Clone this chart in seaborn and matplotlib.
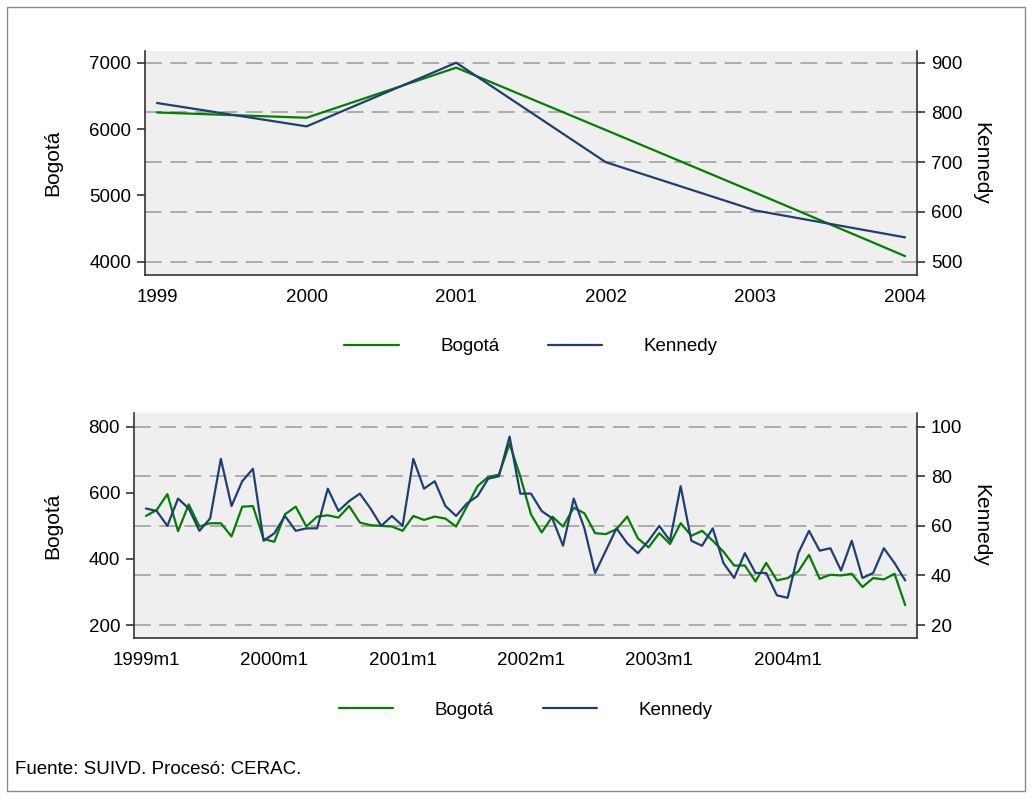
import numpy as np
import pandas as pd
import matplotlib
matplotlib.use("Agg")
import matplotlib.pyplot as plt
import seaborn as sns
from matplotlib.transforms import blended_transform_factory
from matplotlib.lines import Line2D
from matplotlib.patches import Rectangle

# ---------------- data ----------------
years = [1999, 2000, 2001, 2002, 2003, 2004]
bogota_year = [6250, 6170, 6925, 5985, 5040, 4085]
kennedy_year = [819, 772, 900, 700, 603, 549]

month_labels = [f"{y}m{m}" for y in range(1999, 2005) for m in range(1, 13)]
bogota_month = [
    530, 548, 596, 484, 565, 498, 508, 508, 468, 558, 560, 460,
    452, 535, 558, 498, 528, 532, 525, 560, 510, 502, 500, 498,
    485, 530, 518, 528, 522, 498, 558, 620, 648, 655, 748, 650,
    535, 480, 528, 498, 555, 538, 478, 475, 490, 528, 462, 435,
    478, 445, 508, 470, 485, 455, 422, 380, 380, 332, 388, 335,
    342, 362, 412, 340, 352, 350, 355, 315, 342, 338, 355, 260,
]
kennedy_month = [
    67, 66, 60, 71, 67, 58, 63, 87, 68, 78, 83, 54,
    57, 64, 58, 59, 59, 75, 66, 70, 73, 67, 60, 64,
    60, 87, 75, 78, 68, 64, 69, 72, 79, 80, 96, 73,
    73, 66, 63, 52, 71, 59, 41, 50, 59, 53, 49, 54,
    60, 54, 76, 54, 52, 59, 45, 39, 49, 41, 41, 32,
    31, 49, 58, 50, 51, 42, 54, 39, 41, 51, 45, 38,
]
month_tick_labels = ["1999m1", "2000m1", "2001m1", "2002m1", "2003m1", "2004m1"]
series_names = ["Bogotá", "Kennedy"]
source_text = "Fuente: SUIVD. Procesó: CERAC."

df_year = pd.DataFrame({"year": years, "Bogotá": bogota_year, "Kennedy": kennedy_year})
df_month = pd.DataFrame({"t": np.arange(len(month_labels)), "label": month_labels,
                         "Bogotá": bogota_month, "Kennedy": kennedy_month})

# ---------------- style ----------------
sns.set_theme(style="white")
plt.rcParams["font.family"] = ["Liberation Sans", "DejaVu Sans"]
plt.rcParams["text.color"] = "black"
plt.rcParams["axes.labelcolor"] = "black"

GREEN = "#008000"
NAVY = "#1F3F74"
BG = "#EFEFEF"
GRID = "#9A9A9A"
SPINE = "#333333"
FS_TICK = 13.5
FS_LABEL = 15
LW = 1.6

W, H = 1032, 798
fig = plt.figure(figsize=(W / 100, H / 100), dpi=100)
fig.patch.set_facecolor("white")

def px_axes(x0, y0, x1, y1):
    return fig.add_axes([x0 / W, 1 - y1 / H, (x1 - x0) / W, (y1 - y0) / H])

def style_panel(ax, ax2, right_ticks):
    ax.set_facecolor(BG)
    ax2.patch.set_visible(False)
    for a in (ax, ax2):
        a.spines["top"].set_visible(False)
        for s in ("left", "right", "bottom"):
            a.spines[s].set_color(SPINE)
            a.spines[s].set_linewidth(1.2)
        a.tick_params(direction="out", length=6, width=1.2, color=SPINE,
                      labelsize=FS_TICK, labelcolor="black", pad=4)
        a.grid(False)
    ax.spines["right"].set_visible(False)
    ax2.spines["left"].set_visible(False)
    ax2.spines["bottom"].set_visible(False)
    ax2.set_yticks(right_ticks)
    # grid lines at right-axis ticks, drawn on the primary axis (behind data)
    tr = blended_transform_factory(ax.transAxes, ax2.transData)
    for v in right_ticks:
        ax.plot([0, 1], [v, v], transform=tr, color=GRID, lw=1.1,
                dashes=(11, 5.5), zorder=0.5)

def panel(ax, ax2, df, xcol):
    sns.lineplot(data=df, x=xcol, y="Bogotá", ax=ax, color=GREEN, lw=LW, legend=False, zorder=3)
    sns.lineplot(data=df, x=xcol, y="Kennedy", ax=ax2, color=NAVY, lw=LW, legend=False, zorder=3)
    ax.set_xlabel("")
    ax.set_ylabel("Bogotá", fontsize=FS_LABEL, color="black")
    ax2.set_ylabel("Kennedy", fontsize=FS_LABEL, color="black", rotation=-90)

def add_legend(ax, y_anchor):
    handles = [Line2D([], [], color=GREEN, lw=LW), Line2D([], [], color=NAVY, lw=LW)]
    leg = ax.legend(handles, series_names, loc="center", bbox_to_anchor=(0.5, y_anchor),
                    ncol=2, frameon=False, fontsize=FS_TICK, handlelength=2.9,
                    handletextpad=2.2, columnspacing=2.6)
    for t in leg.get_texts():
        t.set_color("black")

# ---- top panel ----
ax1 = px_axes(145, 51, 917, 275)
ax1b = ax1.twinx()
panel(ax1, ax1b, df_year, "year")
ax1.set_xlim(1998.92, 2004.08)
ax1.set_ylim(3800, 7176)
ax1b.set_ylim(473.3, 923.5)
ax1.set_yticks([4000, 5000, 6000, 7000])
ax1.set_xticks(years)
ax1.set_xticklabels([str(y) for y in years])
style_panel(ax1, ax1b, [500, 600, 700, 800, 900])
ax1.yaxis.set_label_coords(-0.107, 0.5)
ax1b.yaxis.set_label_coords(1.095, 0.5)
add_legend(ax1, -0.32)

# ---- bottom panel ----
ax2 = px_axes(134, 413, 917, 638)
ax2b = ax2.twinx()
panel(ax2, ax2b, df_month, "t")
ax2.set_xlim(-1.12, 72.1)
ax2.set_ylim(160.7, 841.5)
ax2b.set_ylim(14.8, 105.5)
ax2.set_yticks([200, 400, 600, 800])
ax2.set_xticks([month_labels.index(l) for l in month_tick_labels])
ax2.set_xticklabels(month_tick_labels)
style_panel(ax2, ax2b, [20, 40, 60, 80, 100])
ax2.yaxis.set_label_coords(-0.092, 0.5)
ax2b.yaxis.set_label_coords(1.093, 0.5)
add_legend(ax2, -0.32)

# source note and outer frame
fig.text(15 / W, 1 - 770 / H, source_text, fontsize=FS_TICK, ha="left", va="center", color="black")
fig.add_artist(Rectangle((7 / W, 1 - 791 / H), (1025 - 7) / W, (791 - 7) / H,
                         transform=fig.transFigure, fill=False, edgecolor="#8A8A8A", lw=1.0))

fig.savefig("out.png", dpi=100, facecolor="white")
